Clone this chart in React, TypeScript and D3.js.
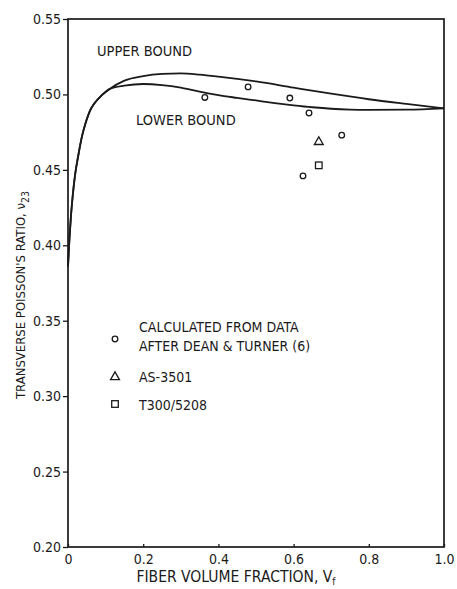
import { useEffect, useRef } from 'react';
import * as d3 from 'd3';

// Shared rise of both bounds near Vf = 0
const rise: [number, number][] = [
  [0, 0.386], [0.004, 0.405], [0.008, 0.42], [0.013, 0.434], [0.019, 0.447],
  [0.027, 0.459], [0.037, 0.472], [0.048, 0.482], [0.058, 0.489], [0.07, 0.494],
  [0.09, 0.4995], [0.11, 0.5035],
];

const upperBound: [number, number][] = [
  ...rise,
  [0.15, 0.5092], [0.2, 0.5122], [0.25, 0.5136], [0.3, 0.5139], [0.35, 0.5131],
  [0.4, 0.5118], [0.5, 0.5086], [0.6, 0.5045], [0.7, 0.5005], [0.8, 0.4968],
  [0.9, 0.4937], [1.0, 0.4908],
];

const lowerBound: [number, number][] = [
  ...rise,
  [0.15, 0.5058], [0.2, 0.5069], [0.25, 0.5062], [0.3, 0.5045], [0.35, 0.5018],
  [0.4, 0.4995], [0.45, 0.4977], [0.5, 0.496], [0.55, 0.4943], [0.6, 0.4928],
  [0.65, 0.4915], [0.7, 0.4905], [0.75, 0.4899], [0.8, 0.4897], [0.9, 0.4899],
  [1.0, 0.4908],
];

const deanTurner: [number, number][] = [
  [0.364, 0.498], [0.479, 0.505], [0.59, 0.4976], [0.641, 0.4877],
  [0.728, 0.473], [0.625, 0.446],
];
const as3501: [number, number][] = [[0.667, 0.4685]];
const t300: [number, number][] = [[0.667, 0.453]];

const xTicks = [0, 0.2, 0.4, 0.6, 0.8, 1.0];
const xTickLabels = ['0', '0.2', '0.4', '0.6', '0.8', '1.0'];
const yTicks = [0.2, 0.25, 0.3, 0.35, 0.4, 0.45, 0.5, 0.55];

const FONT = "'DejaVu Sans Condensed', 'DejaVu Sans', sans-serif";
const INK = '#1a1a1a';

export default function App() {
  const svgRef = useRef<SVGSVGElement>(null);
  const width = 457,
    height = 589;
  const left = 68,
    right = 444,
    top = 19,
    bottom = 547;

  useEffect(() => {
    const svg = d3.select(svgRef.current);
    svg.selectAll('*').remove();

    const x = d3.scaleLinear().domain([0, 1]).range([left, right]);
    const y = d3.scaleLinear().domain([0.2, 0.55]).range([bottom, top]);

    const g = svg
      .append('g')
      .style('font-family', FONT)
      .style('font-stretch', 'condensed')
      .attr('fill', INK);

    // frame
    g.append('rect')
      .attr('x', left)
      .attr('y', top)
      .attr('width', right - left)
      .attr('height', bottom - top)
      .attr('fill', 'none')
      .attr('stroke', INK)
      .attr('stroke-width', 1.7);

    // y axis
    const yAxis = g
      .append('g')
      .attr('transform', `translate(${left},0)`)
      .call(
        d3
          .axisLeft(y)
          .tickValues(yTicks)
          .tickFormat(d3.format('.2f'))
          .tickSize(5)
          .tickPadding(2),
      );
    yAxis.select('.domain').remove();
    yAxis.selectAll('line').attr('stroke', INK).attr('stroke-width', 1.3);
    yAxis
      .selectAll('text')
      .style('font-family', FONT)
      .style('font-size', '14px')
      .attr('fill', INK);

    // x axis
    const xAxis = g
      .append('g')
      .attr('transform', `translate(0,${bottom})`)
      .call(
        d3
          .axisBottom(x)
          .tickValues(xTicks)
          .tickFormat((d, i) => xTickLabels[i])
          .tickSize(-3)
          .tickPadding(7),
      );
    xAxis.select('.domain').remove();
    xAxis.selectAll('line').attr('stroke', INK).attr('stroke-width', 1.3);
    xAxis
      .selectAll('text')
      .style('font-family', FONT)
      .style('font-size', '14px')
      .attr('fill', INK);

    // axis titles
    const yt = g
      .append('text')
      .attr('transform', `translate(25,295) rotate(-90)`)
      .attr('text-anchor', 'middle')
      .style('font-size', '13px');
    yt.append('tspan').text("TRANSVERSE POISSON'S RATIO, \u03bd");
    yt.append('tspan').attr('dy', 4).style('font-size', '10.5px').text('23');

    const xt = g
      .append('text')
      .attr('x', 236)
      .attr('y', 582)
      .attr('text-anchor', 'middle')
      .style('font-size', '15.5px');
    xt.append('tspan').text('FIBER VOLUME FRACTION, V');
    xt.append('tspan').attr('dy', 3).style('font-size', '10px').text('f');

    // bounds
    const line = d3
      .line<[number, number]>()
      .x((d) => x(d[0]))
      .y((d) => y(d[1]))
      .curve(d3.curveMonotoneX);

    [upperBound, lowerBound].forEach((data) => {
      g.append('path')
        .attr('d', line(data))
        .attr('fill', 'none')
        .attr('stroke', INK)
        .attr('stroke-width', 1.8);
    });

    g.append('text').attr('x', 97).attr('y', 56).style('font-size', '14.5px').text('UPPER BOUND');
    g.append('text').attr('x', 136).attr('y', 125).style('font-size', '14.5px').text('LOWER BOUND');

    // data markers
    const circle = (sel: any, cx: number, cy: number) =>
      sel
        .append('circle')
        .attr('cx', cx)
        .attr('cy', cy)
        .attr('r', 2.8)
        .attr('fill', 'none')
        .attr('stroke', INK)
        .attr('stroke-width', 1.3);
    const triangle = (sel: any, cx: number, cy: number) =>
      sel
        .append('path')
        .attr('d', d3.symbol(d3.symbolTriangle, 34)())
        .attr('transform', `translate(${cx},${cy})`)
        .attr('fill', 'none')
        .attr('stroke', INK)
        .attr('stroke-width', 1.3);
    const square = (sel: any, cx: number, cy: number) =>
      sel
        .append('rect')
        .attr('x', cx - 3.3)
        .attr('y', cy - 3.3)
        .attr('width', 6.6)
        .attr('height', 6.6)
        .attr('fill', 'none')
        .attr('stroke', INK)
        .attr('stroke-width', 1.3);

    deanTurner.forEach((d) => circle(g, x(d[0]), y(d[1])));
    as3501.forEach((d) => triangle(g, x(d[0]), y(d[1])));
    t300.forEach((d) => square(g, x(d[0]), y(d[1])));

    // legend
    circle(g, 115, 339);
    triangle(g, 115, 377);
    square(g, 115, 404);
    const leg = [
      ['CALCULATED FROM DATA', 332],
      ['AFTER DEAN & TURNER (6)', 351],
      ['AS-3501', 382],
      ['T300/5208', 410],
    ] as [string, number][];
    leg.forEach(([t, ly]) => {
      g.append('text').attr('x', 139).attr('y', ly).style('font-size', '14px').text(t);
    });
  }, []);

  return (
    <svg
      ref={svgRef}
      width={width}
      height={height}
      viewBox={`0 0 ${width} ${height}`}
      style={{ position: 'absolute', left: 0, top: 0, background: '#fff' }}
    />
  );
}
